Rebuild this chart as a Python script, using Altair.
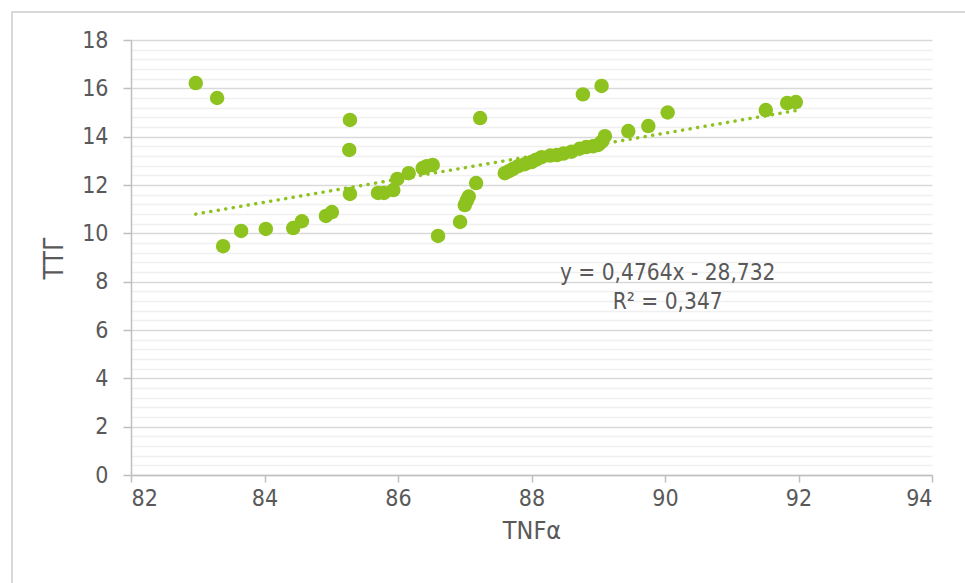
import altair as alt
import pandas as pd

# TNFα vs ТТГ observations
tnf = [82.97, 83.29, 83.38, 83.65, 84.02, 84.43, 84.56, 84.92, 85.01, 85.28,
       85.27, 85.28, 85.70, 85.79, 85.93, 85.99, 86.16, 86.37, 86.43, 86.52,
       86.60, 86.93, 87.00, 87.03, 87.06, 87.17, 87.23,
       87.60, 87.66, 87.72, 87.80, 87.90, 88.00, 88.07, 88.15, 88.28, 88.38,
       88.48, 88.60, 88.72, 88.82, 88.92, 89.00, 89.05, 89.10,
       88.77, 89.05, 89.45, 89.75, 90.04, 91.51, 91.83, 91.96]
ttg = [16.22, 15.60, 9.47, 10.10, 10.18, 10.22, 10.50, 10.72, 10.88, 14.69,
       13.45, 11.63, 11.67, 11.67, 11.79, 12.25, 12.49, 12.70, 12.78, 12.83,
       9.89, 10.47, 11.17, 11.35, 11.52, 12.08, 14.77,
       12.49, 12.57, 12.66, 12.78, 12.86, 12.95, 13.05, 13.15, 13.22, 13.24,
       13.30, 13.38, 13.50, 13.57, 13.60, 13.66, 13.78, 14.02,
       15.75, 16.10, 14.23, 14.44, 15.00, 15.10, 15.39, 15.43]

# linear trend reported on the chart
slope = 0.4764
intercept = -28.732
r_squared = 0.347
trend_x = [82.97, 91.96]

x_ticks = [82, 84, 86, 88, 90, 92, 94]
y_grid = [round(i * 0.4, 1) for i in range(46)]

GREEN = "#8dc21f"
TEXT = "#595959"
FONT = "Liberation Sans Narrow, DejaVu Sans Condensed, Lato"

points = pd.DataFrame({"TNFα": tnf, "ТТГ": ttg})
trend = pd.DataFrame({"TNFα": trend_x, "ТТГ": [slope * v + intercept for v in trend_x]})

def fmt(v, nd):
    return f"{abs(v):.{nd}f}".replace(".", ",")

eq_text = pd.DataFrame({
    "TNFα": [90.04, 90.04],
    "ТТГ": [8.36, 7.16],
    "label": [f"y = {fmt(slope, 4)}x - {fmt(intercept, 3)}", f"R² = {fmt(r_squared, 3)}"],
})

major = "abs(datum.value - round(datum.value / 2) * 2) < 0.01"

x_enc = alt.X(
    "TNFα:Q",
    scale=alt.Scale(domain=[82, 94], nice=False, zero=False),
    axis=alt.Axis(
        values=x_ticks, grid=False, title="TNFα", format="d",
        domainColor="#bfbfbf", domainWidth=1.5,
        tickColor="#bfbfbf", tickSize=7, tickWidth=1.5,
        labelFont=FONT, labelFontSize=23, labelColor=TEXT, labelPadding=5,
        titleFont=FONT, titleFontSize=25, titleColor=TEXT,
        titleFontWeight="normal", titlePadding=8,
    ),
)
y_enc = alt.Y(
    "ТТГ:Q",
    scale=alt.Scale(domain=[0, 18], nice=False),
    axis=alt.Axis(
        values=y_grid, grid=True, title="ТТГ",
        gridColor={"condition": {"test": major, "value": "#d9d9d9"}, "value": "#f0f0f0"},
        gridWidth=1.5,
        tickColor={"condition": {"test": major, "value": "#bfbfbf"}, "value": "transparent"},
        tickSize=8, tickWidth=1.5,
        domainColor="#bfbfbf", domainWidth=1.5,
        labelExpr=f"{major} ? format(datum.value, 'd') : ''",
        labelFont=FONT, labelFontSize=23, labelColor=TEXT, labelPadding=15,
        titleFont=FONT, titleFontSize=26, titleColor=TEXT,
        titleFontWeight="normal", titlePadding=14,
    ),
)

frame = alt.Chart(alt.Data(values=[{"k": 0}])).mark_rect(
    fill=None, stroke="#d9d9d9", strokeWidth=2
).encode(
    x=alt.value(-119), x2=alt.value(900), y=alt.value(-28), y2=alt.value(700)
)

scatter = alt.Chart(points).mark_circle(size=210, color=GREEN, opacity=1).encode(
    x=x_enc, y=y_enc
)

trend_line = alt.Chart(trend).mark_line(
    color=GREEN, strokeWidth=3.5, strokeDash=[0.1, 7.5], strokeCap="round"
).encode(x=x_enc, y=y_enc)

labels = alt.Chart(eq_text).mark_text(
    font=FONT, fontSize=22.5, color=TEXT, align="center", baseline="middle"
).encode(x=x_enc, y=y_enc, text="label:N")

chart = alt.layer(frame, scatter, trend_line, labels).properties(
    width=801, height=435,
    autosize=alt.AutoSizeParams(type="none"),
    padding={"left": 131, "top": 40, "right": 33, "bottom": 108},
    background="white",
).configure_view(strokeWidth=0)

chart.save("out.html", embed_options={"renderer": "svg", "actions": False})
